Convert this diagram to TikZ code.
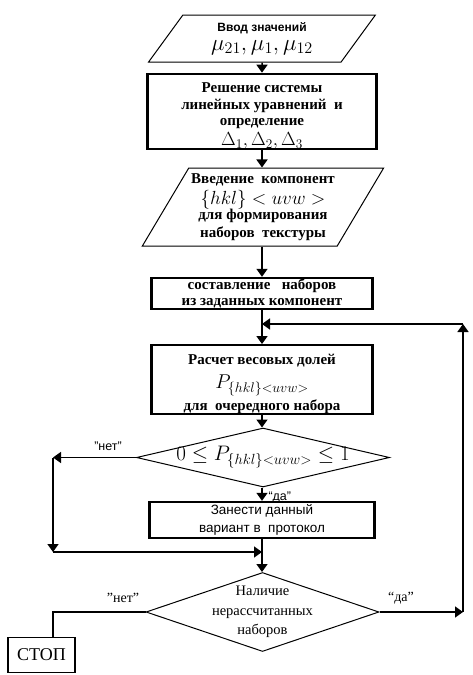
\RequirePackage{fix-cm}
\documentclass[tikz,border=0pt]{standalone}
\usepackage{fontspec}
\setmainfont{Liberation Serif}
\newfontfamily\arialfont{Liberation Sans}
\usepackage{tikz}
\usetikzlibrary{arrows.meta}
\usetikzlibrary{shapes.geometric, positioning}

\newcommand{\osn}{\fontsize{15}{16.5}\selectfont}
\newcommand{\bolsh}{\fontsize{20}{22}\selectfont}

\begin{document}
\begin{tikzpicture}[x=1pt, y=-1pt,
        blok/.style={draw, line width=2.4pt, inner sep=0pt, align=center, font=\osn},
        vvod/.style={draw, line width=1pt, trapezium, trapezium left angle=56,
            trapezium right angle=124, trapezium stretches=true, inner sep=0pt, align=center},
        uslovie/.style={draw, line width=1pt, diamond, inner sep=0pt},
        strelka/.style={line width=1.5pt, -{Triangle[width=11pt,length=8pt]}},
        liniya/.style={line width=1.5pt},
        metka/.style={font=\arialfont\fontsize{12.5}{14}\selectfont}]
        \useasboundingbox (0,0) rectangle (473,675);

        % Блоки
        \node[vvod, minimum width=227pt, minimum height=47pt] (vvod1) at (262,38.5)
            {{\arialfont\bfseries\fontsize{12}{14}\selectfont Ввод значений}\\[6pt]
             {\fontsize{23}{24}\selectfont $\mu_{21},\mu_1,\mu_{12}$}};
        \node[blok, minimum width=229pt, minimum height=69pt] (resh) at (262,111.5)
            {\rule{0pt}{19pt}\bfseries Решение системы\\\bfseries линейных уравнений\ \ и\\\bfseries определение\\[3pt]
             {\fontsize{19}{20}\selectfont $\Delta_1,\Delta_2,\Delta_3$}};
        \node[vvod, minimum width=242pt, minimum height=78pt, font=\fontsize{15}{17.5}\selectfont] (komp) at (263,207)
            {\bfseries Введение\ \ компонент\\[3pt]
             {\fontsize{19}{20}\selectfont $\{hkl\}<uvw>$}\\[-2pt]
             \bfseries для формирования\\\bfseries наборов\ \ текстуры};
        \node[blok, minimum width=221pt, minimum height=31pt] (sost) at (262,293.5)
            {\bfseries составление\ \ \ наборов\\\bfseries из заданных компонент};
        \node[blok, minimum width=221pt, minimum height=65pt] (rasch) at (262,379.5)
            {\rule{0pt}{19pt}\bfseries Расчет весовых долей\\[8pt]
             {\bolsh $P_{\{hkl\}<uvw>}$}\\[3pt]
             \bfseries для\ \ очередного набора};
        \node[uslovie, minimum width=253pt, minimum height=59pt,
            label={[font=\fontsize{21}{22}\selectfont]center:{$0\le P_{\{hkl\}<uvw>}\le 1$}}] (usl1) at (263,457.5) {};
        \node[blok, minimum width=225pt, minimum height=36pt,
            font=\arialfont\fontsize{13.5}{18}\selectfont] (zanes) at (262,520)
            {Занести данный\\вариант в\ \ протокол};
        \node[uslovie, minimum width=233pt, minimum height=79pt,
            label={[align=center, font=\fontsize{14.5}{19.5}\selectfont]center:{Наличие\\нерассчитанных\\наборов}}]
            (usl2) at (262.5,612) {};
        \node[draw, line width=1.2pt, minimum width=67pt, minimum height=35pt, inner sep=0pt,
            font=\fontsize{18}{20}\selectfont] (stop) at (41.5,655) {СТОП};

        % Точки поворота
        \coordinate (lev1) at (53,457.5);
        \coordinate (lev2) at (53,552);
        \coordinate (sliv) at (262,552);
        \coordinate (prav1) at (463,612);
        \coordinate (prav2) at (463,324);
        \coordinate (vozv) at (262,324);

        % Стрелки
        \draw[strelka] (vvod1.south) -- (resh.north);
        \draw[strelka] (resh.south) -- (komp.north -| resh.south);
        \draw[strelka] (komp.south -| sost.north) -- (sost.north);
        \draw[strelka] (sost.south) -- (rasch.north);
        \draw[strelka] (rasch.south) -- (usl1.north -| rasch.south);
        \draw[strelka] (usl1.south -| zanes.north) -- (zanes.north);
        \draw[strelka] (usl1.west) -- (lev1);
        \draw[strelka] (lev1) -- (lev2);
        \draw[strelka] (lev2) -- (sliv);
        \draw[strelka] (zanes.south) -- (usl2.north -| zanes.south);
        \draw[strelka] (usl2.east) -- (prav1);
        \draw[strelka] (prav1) -- (prav2);
        \draw[strelka] (prav2) -- (vozv);
        \draw[liniya] (usl2.west) -| (stop.north -| lev1);

        % Подписи
        \node[metka] (net1) at (108,446) {”нет”};
        \node[metka, anchor=west] (da1) at (265,497) {“да”};
        \node[font=\fontsize{14}{16}\selectfont] (net2) at (123,598) {”нет”};
        \node[font=\fontsize{14}{16}\selectfont] (da2) at (401,598) {“да”};
    \end{tikzpicture}
\end{document}
